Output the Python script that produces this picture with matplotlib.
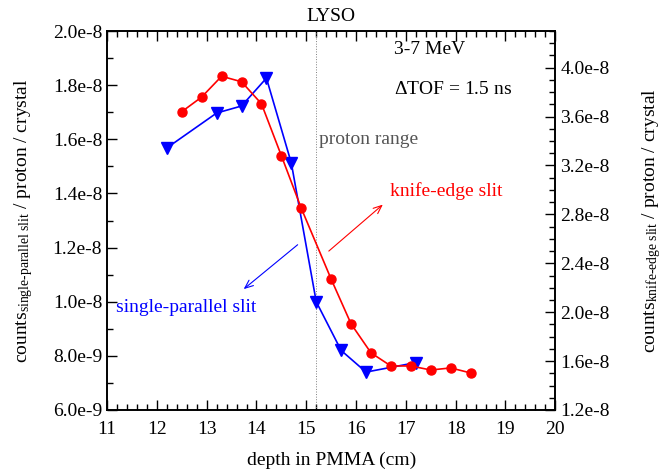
import matplotlib
matplotlib.use("Agg")
import matplotlib.pyplot as plt
from matplotlib.ticker import MultipleLocator, AutoMinorLocator

plt.rcParams['font.family'] = ['Liberation Serif', 'DejaVu Serif']
plt.rcParams['mathtext.fontset'] = 'custom'
plt.rcParams['mathtext.rm'] = 'Liberation Serif'
plt.rcParams['mathtext.it'] = 'Liberation Serif:italic'

# single-parallel slit (left axis)
depth_sp = [12.2, 13.2, 13.7, 14.2, 14.7, 15.2, 15.7, 16.2, 17.2]
counts_sp = [1.568e-8, 1.697e-8, 1.723e-8, 1.826e-8, 1.512e-8, 1.0e-8,
             8.2e-9, 7.4e-9, 7.75e-9]

# knife-edge slit (right axis)
depth_ke = [12.5, 12.9, 13.3, 13.7, 14.1, 14.5, 14.9, 15.5, 15.9, 16.3,
            16.7, 17.1, 17.5, 17.9, 18.3]
counts_ke = [3.64e-8, 3.76e-8, 3.93e-8, 3.885e-8, 3.705e-8, 3.28e-8, 2.85e-8,
             2.27e-8, 1.904e-8, 1.667e-8, 1.56e-8, 1.56e-8, 1.527e-8,
             1.544e-8, 1.503e-8]

proton_range = 15.19

FS = 14
fig = plt.figure(figsize=(6.65, 4.70), dpi=100)
ax = fig.add_axes([0.161, 0.1277, 0.674, 0.8063])
ax2 = ax.twinx()

ax.plot(depth_sp, counts_sp, color='blue', lw=1.2, marker='v', ms=8.5,
        zorder=3)
ax2.plot(depth_ke, counts_ke, color='red', lw=1.2, marker='o', ms=6.5,
         zorder=3)
ax.axvline(proton_range, color='gray', lw=0.7, ls=':')

ax.set_xlim(11, 20)
ax.set_ylim(6e-9, 2e-8)
ax2.set_ylim(1.2e-8, 4.3e-8)

ax.xaxis.set_major_locator(MultipleLocator(1))
ax.xaxis.set_minor_locator(MultipleLocator(0.2))
ax.yaxis.set_major_locator(MultipleLocator(2e-9))
ax.yaxis.set_minor_locator(MultipleLocator(1e-9))
ax2.yaxis.set_major_locator(MultipleLocator(4e-9))
ax2.yaxis.set_minor_locator(AutoMinorLocator(4))


def sci(v, pos):
    m, e = ('%.1e' % v).split('e')
    return '%se%d' % (m, int(e))


ax.yaxis.set_major_formatter(sci)
ax2.yaxis.set_major_formatter(sci)
ax.yaxis.get_offset_text().set_visible(False)
ax2.yaxis.get_offset_text().set_visible(False)

ax.tick_params(which='both', direction='in', top=True, right=False,
               labelsize=FS, width=1)
ax.tick_params(which='major', length=7)
ax.tick_params(which='minor', length=4)
ax.tick_params(axis='x', pad=8)
ax2.tick_params(which='both', direction='in', labelsize=FS, width=1)
ax2.tick_params(which='major', length=7)
ax2.tick_params(which='minor', length=4)
for a in (ax, ax2):
    for s in a.spines.values():
        s.set_linewidth(1.2)

ax.set_xlabel('depth in PMMA (cm)', fontsize=FS, labelpad=10)
ax.set_ylabel(r'counts$_{\text{single-parallel slit}}$ / proton / crystal',
              fontsize=FS, labelpad=13)
ax2.set_ylabel(r'counts$_{\text{knife-edge slit}}$ / proton / crystal',
               fontsize=FS, labelpad=22)
ax.set_title('LYSO', fontsize=FS, pad=7)

ax.text(0.64, 0.95, '3-7 MeV', transform=ax.transAxes, fontsize=FS,
        va='center')
ax.text(0.64, 0.845, r'$\Delta$TOF = 1.5 ns', transform=ax.transAxes,
        fontsize=FS, va='center')
ax.text(15.25, 1.6e-8, 'proton range', color='#555555', fontsize=FS,
        va='center')
ax2.text(16.68, 2.99e-8, 'knife-edge slit', color='red', fontsize=FS,
         va='center')
ax2.annotate('', xy=(16.58, 2.895e-8), xytext=(15.41, 2.485e-8),
             arrowprops=dict(arrowstyle='->,head_length=0.6,head_width=0.25',
                             color='red', lw=0.8))
ax.text(11.18, 9.8e-9, 'single-parallel slit', color='blue', fontsize=FS,
        va='center')
ax.annotate('', xy=(13.70, 1.04e-8), xytext=(14.87, 1.217e-8),
            arrowprops=dict(arrowstyle='->,head_length=0.6,head_width=0.25',
                            color='blue', lw=0.8))

fig.savefig('out.png', dpi=100)
